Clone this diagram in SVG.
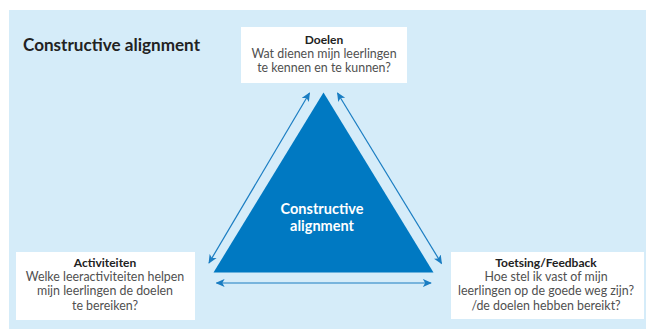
<svg xmlns="http://www.w3.org/2000/svg" width="646" height="329" viewBox="0 0 646 329">
<defs>
<style>
.box{fill:#ffffff}
.t{font-family:Lato,"Open Sans","Liberation Sans",sans-serif;text-anchor:middle}
.h{font-size:12px;font-weight:bold;fill:#222222}
.b{font-size:12.4px;fill:#505050}
.con{stroke:#1a7dc2;stroke-width:1.2;fill:none;marker-start:url(#a);marker-end:url(#a)}
</style>
<marker id="a" viewBox="0 0 10 10" refX="9" refY="5" markerWidth="9" markerHeight="9" markerUnits="userSpaceOnUse" orient="auto-start-reverse">
<path d="M0,0.5 L10,5 L0,9.5 L2.5,5 Z" fill="#1a7dc2"/>
</marker>
</defs>
<rect x="0" y="0" width="646" height="329" fill="#ffffff"/>
<rect x="9" y="10" width="637" height="319" fill="#d5ecf9"/>
<text x="23" y="51" font-family="Lato,'Open Sans','Liberation Sans',sans-serif" font-size="16.5" font-weight="bold" fill="#222222" textLength="177" lengthAdjust="spacingAndGlyphs">Constructive alignment</text>

<g id="triangle">
<polygon points="323.5,92.5 213.5,272.5 433.5,272.5" fill="#0079c2"/>
<text class="t" x="322" y="213.5" font-size="14.5" font-weight="bold" fill="#ffffff">Constructive</text>
<text class="t" x="322" y="231" font-size="14.5" font-weight="bold" fill="#ffffff">alignment</text>
</g>

<g id="doelen">
<rect class="box" x="241" y="27" width="166" height="56"/>
<text class="t h" x="324" y="43.5">Doelen</text>
<text class="t b" x="324" y="57.5">Wat dienen mijn leerlingen</text>
<text class="t b" x="324" y="71.5">te kennen en te kunnen?</text>
</g>

<g id="activiteiten">
<rect class="box" x="16" y="252" width="179" height="68"/>
<text class="t h" x="105" y="267">Activiteiten</text>
<text class="t b" x="105" y="281">Welke leeractiviteiten helpen</text>
<text class="t b" x="105" y="295">mijn leerlingen de doelen</text>
<text class="t b" x="105" y="309.5">te bereiken?</text>
</g>

<g id="toetsing">
<rect class="box" x="451" y="252" width="193" height="67"/>
<text class="t h" x="546" y="267">Toetsing/Feedback</text>
<text class="t b" x="546" y="281">Hoe stel ik vast of mijn</text>
<text class="t b" x="546" y="295">leerlingen op de goede weg zijn?</text>
<text class="t b" x="546" y="309.5">/de doelen hebben bereikt?</text>
</g>

<g id="connectors">
<line class="con" x1="209" y1="263" x2="309.5" y2="93"/>
<line class="con" x1="337.5" y1="93" x2="441.5" y2="263.5"/>
<line class="con" x1="216.5" y1="283" x2="431" y2="283"/>
</g>
</svg>
